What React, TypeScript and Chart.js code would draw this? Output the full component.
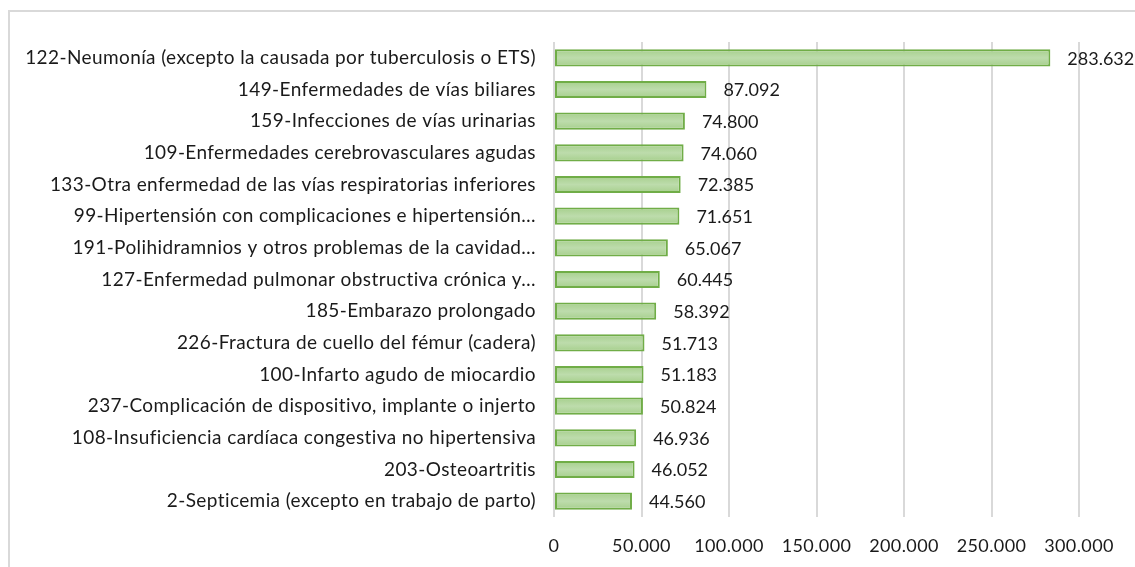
import React, { useEffect, useRef } from "react";
import { Chart, registerables } from "chart.js";

Chart.register(...registerables);

const categories: string[] = [
  "122-Neumonía (excepto la causada por tuberculosis o ETS)",
  "149-Enfermedades de vías biliares",
  "159-Infecciones de vías urinarias",
  "109-Enfermedades cerebrovasculares agudas",
  "133-Otra enfermedad de las vías respiratorias inferiores",
  "99-Hipertensión con complicaciones e hipertensión…",
  "191-Polihidramnios y otros problemas de la cavidad…",
  "127-Enfermedad pulmonar obstructiva crónica y…",
  "185-Embarazo prolongado",
  "226-Fractura de cuello del fémur (cadera)",
  "100-Infarto agudo de miocardio",
  "237-Complicación de dispositivo, implante o injerto",
  "108-Insuficiencia cardíaca congestiva no hipertensiva",
  "203-Osteoartritis",
  "2-Septicemia (excepto en trabajo de parto)",
];

const values: number[] = [
  283632, 87092, 74800, 74060, 72385, 71651, 65067, 60445, 58392, 51713, 51183,
  50824, 46936, 46052, 44560,
];

const axisMin = 0;
const axisMax = 300000;
const axisStep = 50000;

const FONT = "Lato, 'Open Sans', sans-serif";

function fmt(v: number): string {
  return String(Math.round(v)).replace(/\B(?=(\d{3})+(?!\d))/g, ".");
}

const spacingPlugin = {
  id: "labelSpacing",
  beforeDraw(chart: any) {
    (chart.ctx as any).letterSpacing = "0.4px";
  },
  beforeDatasetsDraw(chart: any) {
    const ctx = chart.ctx;
    (ctx as any).letterSpacing = "0px";
    const meta = chart.getDatasetMeta(0);
    meta.data.forEach((el: any) => {
      const h = el.height || 17;
      const g = ctx.createLinearGradient(0, el.y - h / 2, 0, el.y + h / 2);
      g.addColorStop(0, "#a6cf8c");
      g.addColorStop(0.5, "#bddcac");
      g.addColorStop(1, "#a6cf8c");
      el.options = Object.assign({}, el.options, { backgroundColor: g });
    });
  },
};

const dataLabelPlugin = {
  id: "barValueLabels",
  afterDatasetsDraw(chart: any) {
    const ctx = chart.ctx;
    const meta = chart.getDatasetMeta(0);
    ctx.save();
    (ctx as any).letterSpacing = "0px";
    ctx.font = `18px ${FONT}`;
    ctx.fillStyle = "#1a1a1a";
    ctx.textAlign = "left";
    ctx.textBaseline = "middle";
    meta.data.forEach((el: any, i: number) => {
      ctx.fillText(fmt(values[i]), el.x + 17, el.y + 1);
    });
    ctx.restore();
  },
};

export default function App() {
  const canvasRef = useRef<HTMLCanvasElement | null>(null);

  useEffect(() => {
    if (!canvasRef.current) return;
    const chart = new Chart(canvasRef.current, {
      type: "bar",
      data: {
        labels: categories,
        datasets: [
          {
            data: values,
            backgroundColor: "#b2d79e",
            borderColor: "#70ad47",
            borderWidth: 2,
            borderSkipped: false,
            barPercentage: 0.54,
            categoryPercentage: 1,
          },
        ],
      },
      options: {
        indexAxis: "y",
        animation: false,
        responsive: false,
        maintainAspectRatio: false,
        layout: { padding: { left: 0, right: 56, top: 42, bottom: 8 } },
        plugins: {
          legend: { display: false },
          tooltip: { enabled: false },
          title: { display: false },
        },
        scales: {
          x: {
            type: "linear",
            min: axisMin,
            max: axisMax,
            ticks: {
              stepSize: axisStep,
              padding: 18,
              color: "#1a1a1a",
              font: { family: FONT, size: 18 },
              callback: (v: any) => fmt(Number(v)),
            },
            grid: { color: "#d9d9d9", lineWidth: 2, drawTicks: false },
            border: { display: false },
            afterFit: (scale: any) => {
              scale.height = 42;
            },
          },
          y: {
            ticks: {
              padding: 18,
              color: "#1a1a1a",
              font: { family: FONT, size: 19 },
              autoSkip: false,
            },
            grid: { display: false, drawTicks: false },
            border: { display: false },
            afterFit: (scale: any) => {
              scale.width = 554;
            },
          },
        },
      },
      plugins: [spacingPlugin, dataLabelPlugin],
    });
    return () => chart.destroy();
  }, []);

  return (
    <div
      style={{
        position: "fixed",
        left: 0,
        top: 0,
        width: 1135,
        height: 567,
        overflow: "hidden",
        background: "#ffffff",
      }}
    >
      <div
        style={{
          position: "absolute",
          left: 8,
          top: 10,
          width: 1200,
          height: 600,
          border: "2px solid #d9d9d9",
          boxSizing: "border-box",
        }}
      />
      <canvas
        ref={canvasRef}
        width={1135}
        height={567}
        style={{ position: "absolute", left: 0, top: 0, width: 1135, height: 567 }}
      />
    </div>
  );
}
